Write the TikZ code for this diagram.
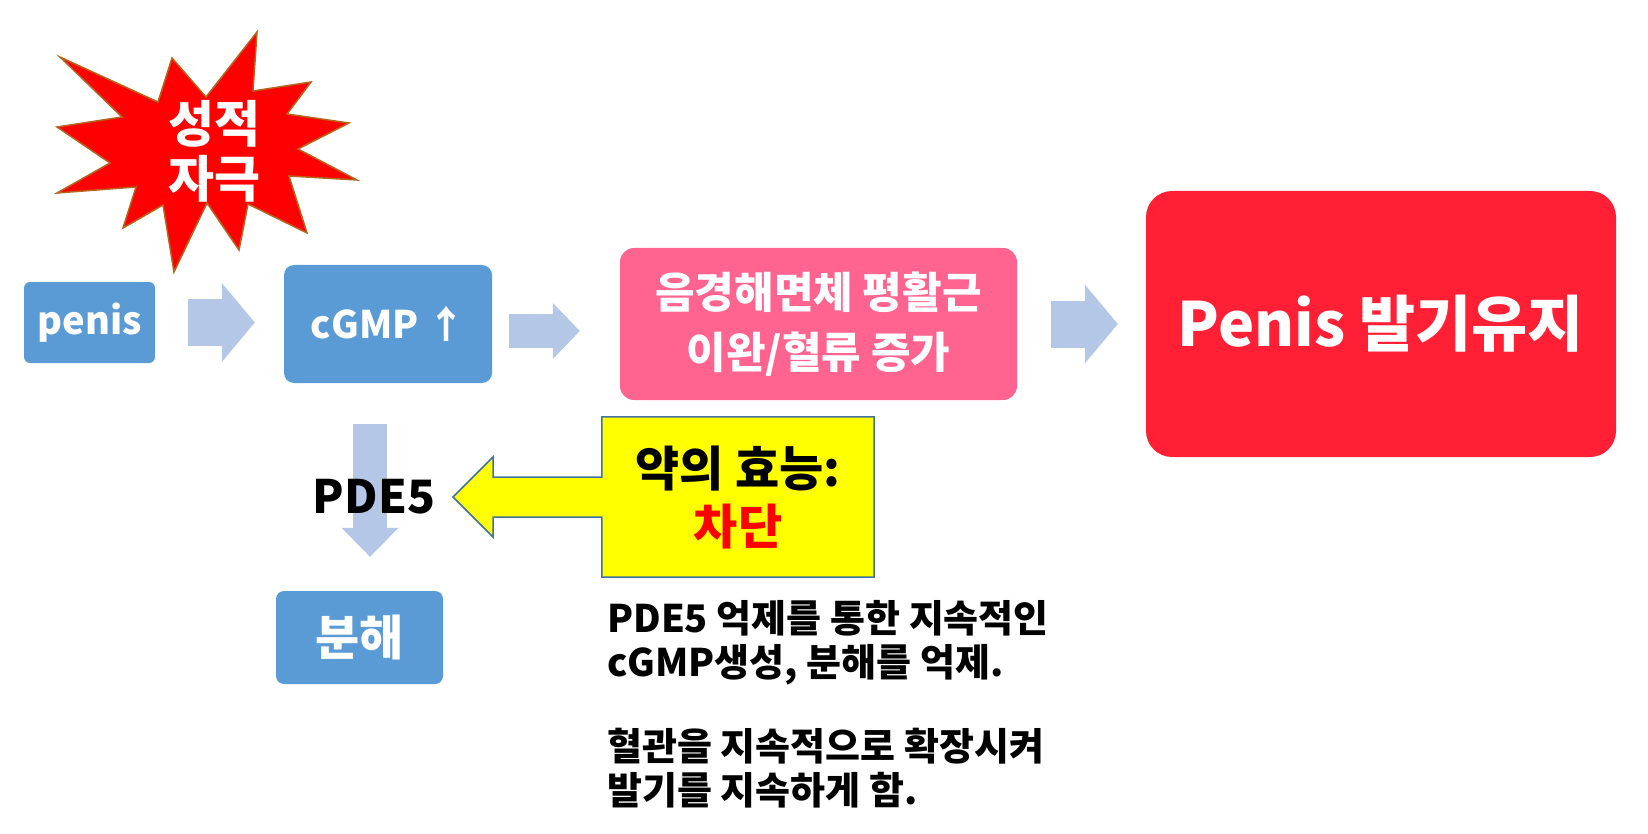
\documentclass[tikz,border=0pt]{standalone}
\usepackage{fontspec}
\setmainfont{Noto Sans CJK KR}
\usetikzlibrary{arrows.meta}

\definecolor{boxblue}{HTML}{5B9BD5}
\definecolor{flowblue}{HTML}{B4C7E7}
\definecolor{relaxpink}{HTML}{FF6490}
\definecolor{erectred}{HTML}{FF2036}
\definecolor{burstred}{HTML}{FF0000}
\definecolor{burstedge}{HTML}{B5651D}
\definecolor{calloutyellow}{HTML}{FFFF00}
\definecolor{calloutedge}{HTML}{41719C}

\tikzset{
  bluebox/.style={fill=boxblue, text=white, inner sep=0pt, rounded corners=6pt,
    font=\bfseries\fontsize{38}{46}\selectfont},
  flow/.style={draw=flowblue, line width=47pt,
    -{Triangle[width=79pt, length=33pt, line width=0pt]}},
  burst/.style={fill=burstred, draw=burstedge, line width=1.5pt, line join=miter},
  callout/.style={fill=calloutyellow, draw=calloutedge, line width=1.5pt}
}

\begin{document}
\begin{tikzpicture}[x=1pt, y=-1pt]
  \useasboundingbox (0,0) rectangle (1648,834);
  % sexual stimulus
  \draw[burst] (60,57) -- (158,102) -- (172,58) -- (206,97) -- (257,32)
    -- (253,91) -- (311,82) -- (287,114) -- (349,123) -- (298,149)
    -- (357,180) -- (289,176) -- (307,233) -- (248,204) -- (239,250)
    -- (207,203) -- (174,272) -- (163,205) -- (123,228) -- (136,187)
    -- (57,193) -- (110,163) -- (57,127) -- (122,117) -- cycle;
  \node[text=white, align=center, font=\bfseries\fontsize{50}{55}\selectfont]
    (stim) at (214,151) {성적\\자극};

  % main pathway
  \node[bluebox, minimum width=131pt, minimum height=81pt]
    (penis) at (89.5,322.5) {penis};
  \node[bluebox, minimum width=208pt, minimum height=118pt, rounded corners=10pt]
    (cgmp) at (388,324) {cGMP ↑};
  \node[fill=relaxpink, text=white, inner sep=0pt, rounded corners=14pt,
    minimum width=397pt, minimum height=152pt, align=center,
    font=\bfseries\fontsize{43}{60}\selectfont]
    (relax) at (818.5,324) {음경해면체 평활근\\이완/혈류 증가};
  \node[fill=erectred, text=white, inner sep=0pt, rounded corners=26pt,
    minimum width=470pt, minimum height=266pt,
    font=\bfseries\fontsize{61}{66}\selectfont]
    (erect) at (1381,324) {Penis 발기유지};
  \node[bluebox, minimum width=167pt, minimum height=93pt, rounded corners=8pt,
    font=\bfseries\fontsize{48}{52}\selectfont]
    (decomp) at (359.5,637.5) {분해};

  \draw[flow] ([xshift=33pt]penis.east) -- ([xshift=-29pt]penis.east -| cgmp.west);
  \draw[flow, line width=34pt, -{Triangle[width=56pt, length=27pt, line width=0pt]}]
    ([xshift=17pt, yshift=-7pt]cgmp.east) -- ([xshift=-40pt, yshift=-7pt]cgmp.east -| relax.west);
  \draw[flow] ([xshift=34pt]relax.east) -- ([xshift=-28pt]relax.east -| erect.west);
  \draw[flow, line width=34pt, -{Triangle[width=57pt, length=29pt, line width=0pt]}]
    ([xshift=-18pt, yshift=-41pt]cgmp.south) -- ([xshift=-18pt, yshift=34pt]cgmp.south |- decomp.north);

  \node[font=\bfseries\fontsize{46}{52}\selectfont, inner sep=0pt]
    (pde) at (374,497) {PDE5};

  % drug effect
  \node[minimum width=272pt, minimum height=160pt, inner sep=0pt] (effect) at (738,497) {};
  \coordinate (tip) at (453,497);
  \draw[callout] (effect.north west) -- (effect.north east) -- (effect.south east)
    -- (effect.south west) -- ([yshift=-20pt]effect.west)
    -- ([xshift=40pt, yshift=-20pt]tip) -- ([xshift=40pt, yshift=-40pt]tip) -- (tip)
    -- ([xshift=40pt, yshift=40pt]tip) -- ([xshift=40pt, yshift=20pt]tip)
    -- ([yshift=20pt]effect.west) -- cycle;
  \node[align=center, font=\bfseries\fontsize{48}{58}\selectfont]
    (effectlbl) at (effect.center) {약의 효능:\\\textcolor{burstred}{차단}};

  \node[anchor=base west, align=left, inner sep=0pt,
    font=\bfseries\fontsize{38}{44}\selectfont]
    (note) at (607,804) {PDE5 억제를 통한 지속적인\\cGMP생성, 분해를 억제.\\[40pt]혈관을 지속적으로 확장시켜\\발기를 지속하게 함.};
\end{tikzpicture}
\end{document}
